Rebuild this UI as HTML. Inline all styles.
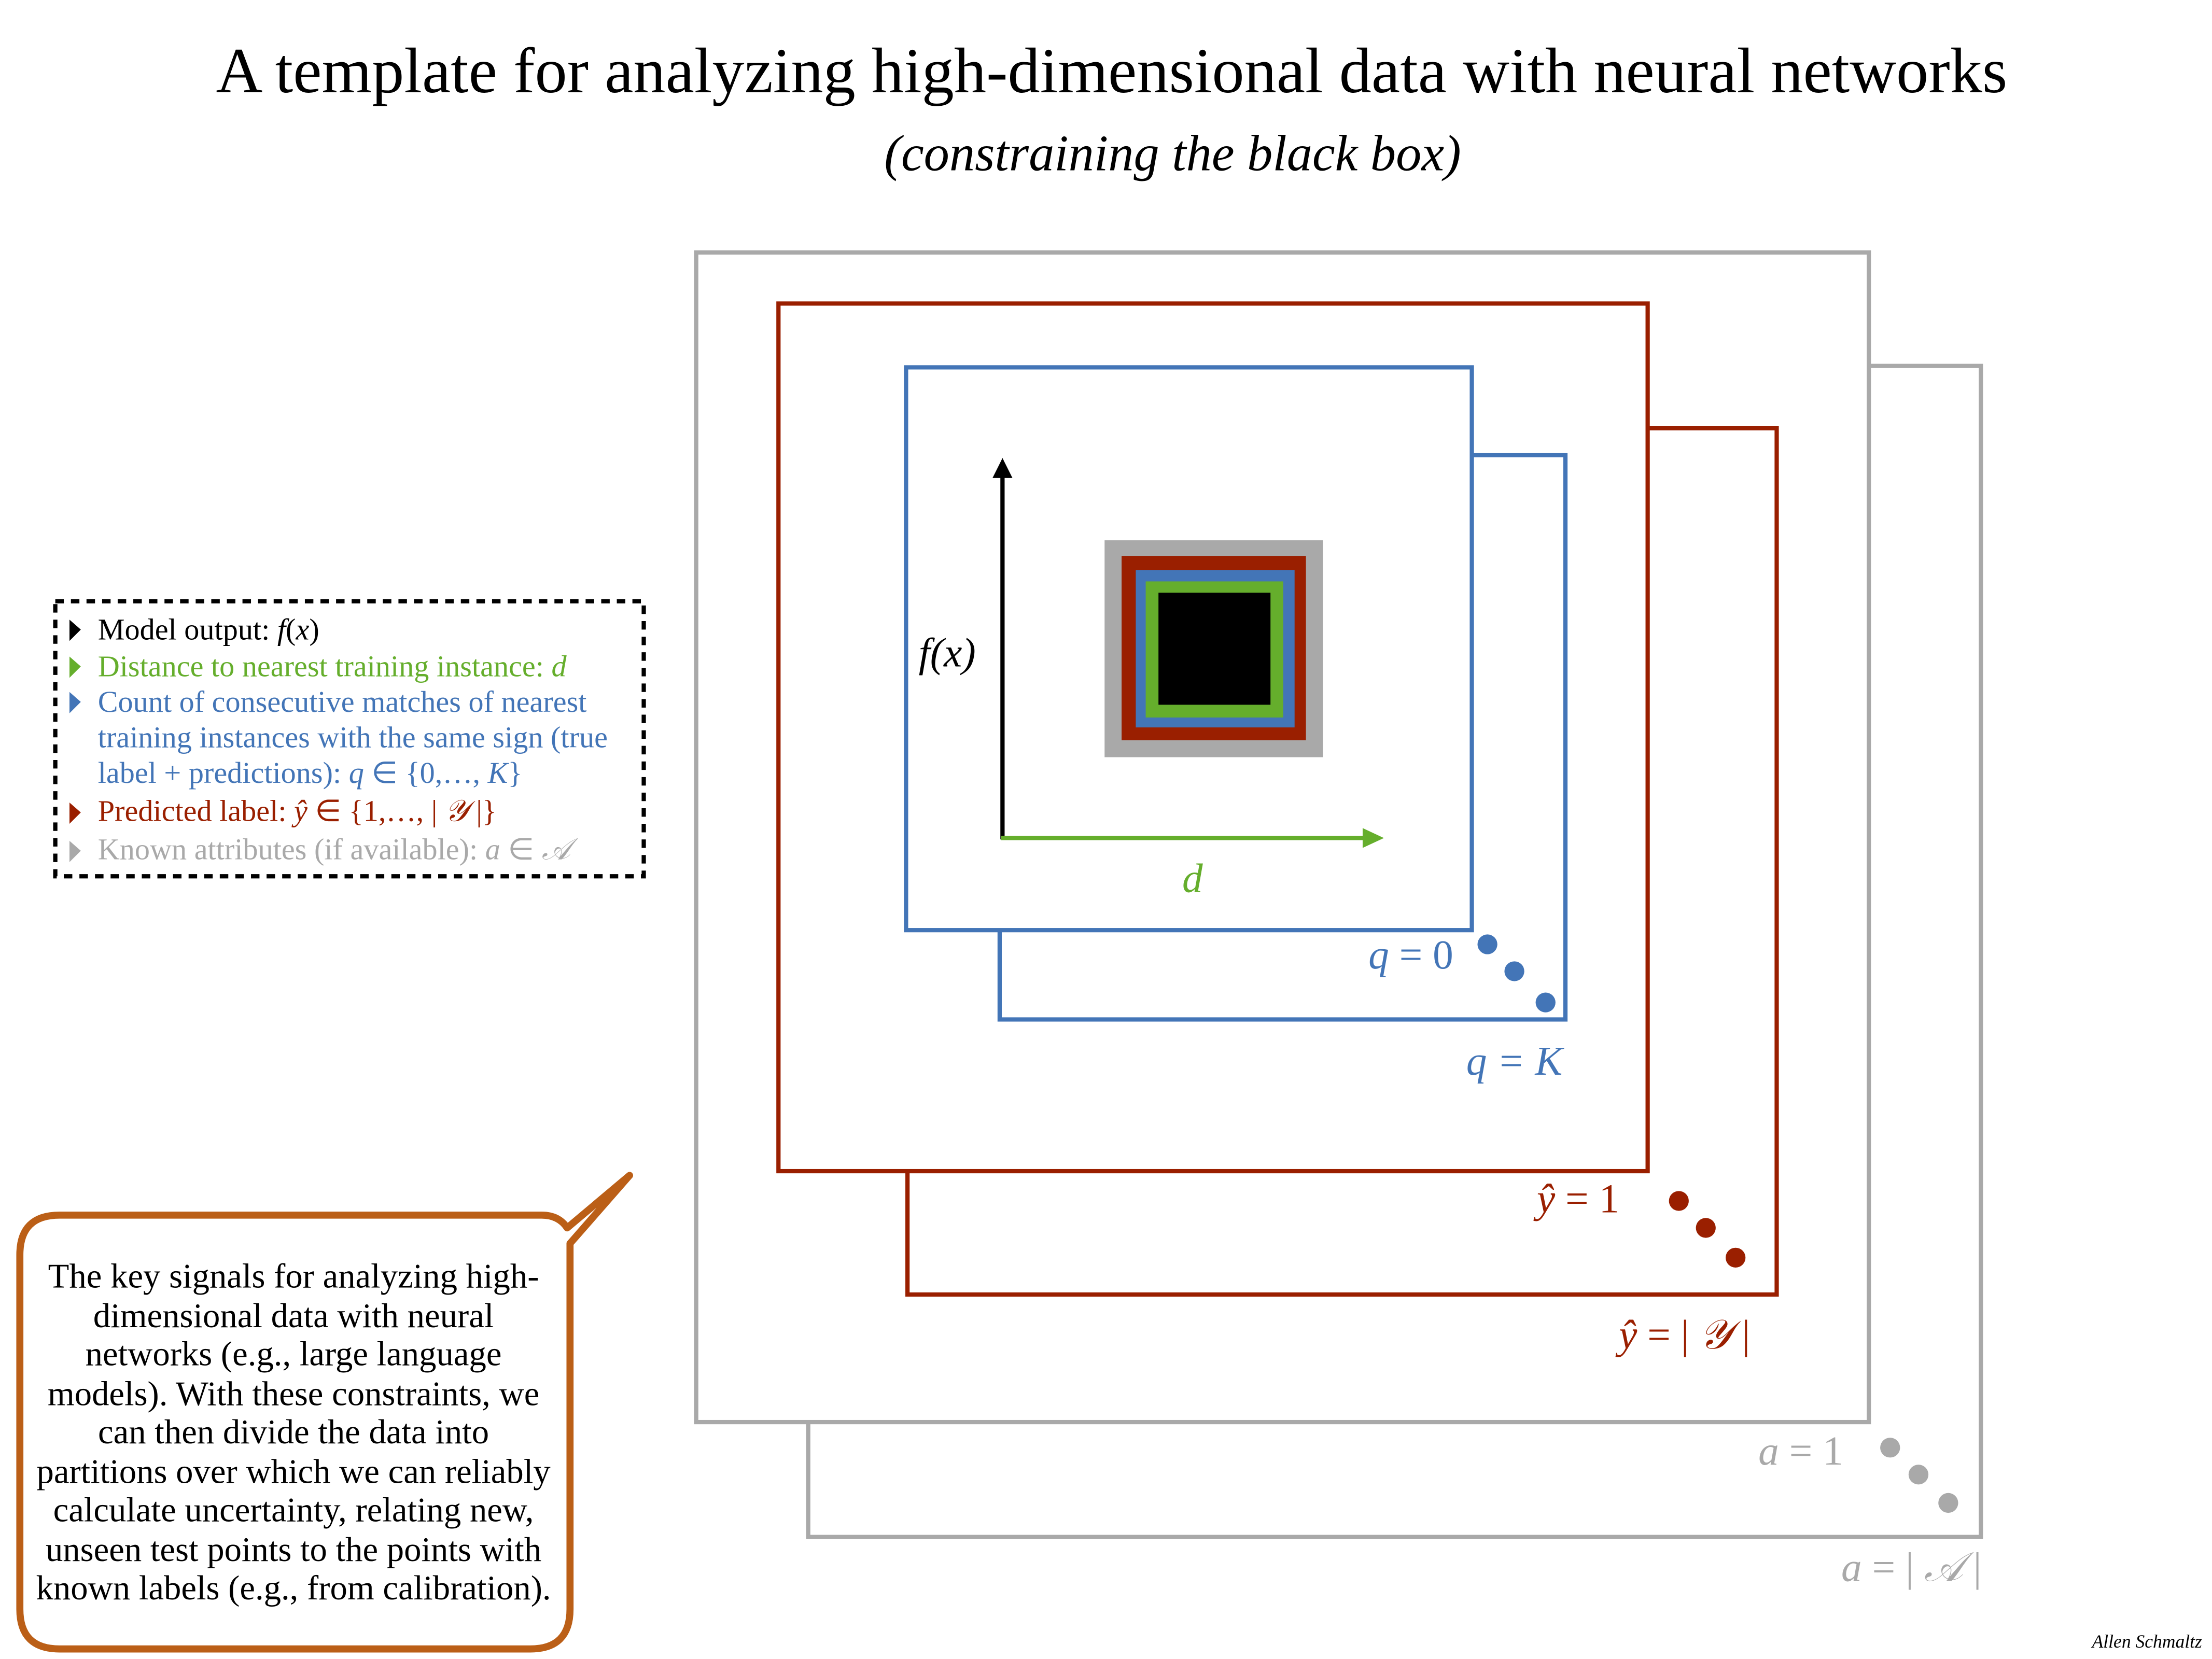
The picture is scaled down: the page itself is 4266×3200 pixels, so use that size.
<!DOCTYPE html>
<html><head><meta charset="utf-8"><style>
html,body{margin:0;padding:0;background:#fff;}
svg{display:block;}
text{font-family:"Liberation Serif",serif;}
.i{font-style:italic;}
</style></head><body>
<svg width="4266" height="3200" viewBox="0 0 1560 1170" xmlns="http://www.w3.org/2000/svg">
<rect width="1560" height="1170" fill="#fff"/>
<text x="784" y="65" font-size="45.5" text-anchor="middle">A template for analyzing high-dimensional data with neural networks</text>
<text x="827" y="120" font-size="36" text-anchor="middle" class="i">(constraining the black box)</text>

<rect x="570" y="258" width="827" height="826" fill="#fff" stroke="#a9a9a9" stroke-width="3"/>
<rect x="491" y="178" width="827" height="825" fill="#fff" stroke="#a9a9a9" stroke-width="3"/>
<rect x="640" y="302" width="613" height="611" fill="#fff" stroke="#9a1f00" stroke-width="3"/>
<rect x="549" y="214" width="613" height="612" fill="#fff" stroke="#9a1f00" stroke-width="3"/>
<rect x="705" y="321" width="399" height="398" fill="#fff" stroke="#4375b7" stroke-width="3"/>
<rect x="639" y="259" width="399" height="397" fill="#fff" stroke="#4375b7" stroke-width="3"/>

<line x1="707" y1="592" x2="707" y2="336" stroke="#000" stroke-width="3"/>
<polygon points="707,323 700,337 714,337" fill="#000"/>
<line x1="706" y1="591" x2="962" y2="591" stroke="#65ae2c" stroke-width="3"/>
<polygon points="976,591 961,584 961,598" fill="#65ae2c"/>
<text x="668" y="470" font-size="29" text-anchor="middle" class="i">f(x)</text>
<text x="841" y="629" font-size="29" text-anchor="middle" fill="#65ae2c" class="i">d</text>

<rect x="779" y="381" width="154" height="153" fill="#a9a9a9"/>
<rect x="791" y="392" width="130" height="130" fill="#9a1f00"/>
<rect x="801" y="402" width="112" height="111" fill="#4375b7"/>
<rect x="808" y="410" width="97" height="96" fill="#65ae2c"/>
<rect x="817" y="418" width="79" height="79" fill="#000"/>

<text x="995" y="683" font-size="29" text-anchor="middle" fill="#4375b7"><tspan class="i">q</tspan> = 0</text>
<circle cx="1049" cy="666" r="7" fill="#4375b7"/><circle cx="1068" cy="685" r="7" fill="#4375b7"/><circle cx="1090" cy="707" r="7" fill="#4375b7"/>
<text x="1068" y="758" font-size="29" text-anchor="middle" fill="#4375b7" class="i">q = K</text>

<text x="1113" y="855" font-size="29" text-anchor="middle" fill="#9a1f00"><tspan class="i">ŷ</tspan> = 1</text>
<circle cx="1184" cy="847" r="7" fill="#9a1f00"/><circle cx="1203" cy="866" r="7" fill="#9a1f00"/><circle cx="1224" cy="887" r="7" fill="#9a1f00"/>
<text x="1188" y="951" font-size="29" text-anchor="middle" fill="#9a1f00"><tspan class="i">ŷ</tspan> = | <tspan class="i">𝒴</tspan> |</text>

<text x="1270" y="1033" font-size="29" text-anchor="middle" fill="#a9a9a9"><tspan class="i">a</tspan> = 1</text>
<circle cx="1333" cy="1021" r="7" fill="#a9a9a9"/><circle cx="1353" cy="1040" r="7" fill="#a9a9a9"/><circle cx="1374" cy="1060" r="7" fill="#a9a9a9"/>
<text x="1348" y="1115" font-size="29" text-anchor="middle" fill="#a9a9a9"><tspan class="i">a</tspan> = | <tspan class="i">𝒜</tspan> |</text>

<rect x="39" y="424" width="415" height="194" fill="#fff" stroke="#000" stroke-width="3" stroke-dasharray="6,5"/>
<g font-size="21.3">
<polygon points="49,437 57,444 49,452" fill="#000"/>
<text x="69" y="451">Model output: <tspan class="i">f</tspan>(<tspan class="i">x</tspan>)</text>
<polygon points="49,463 57,470 49,478" fill="#65ae2c"/>
<text x="69" y="477" fill="#65ae2c">Distance to nearest training instance: <tspan class="i">d</tspan></text>
<polygon points="49,488 57,495 49,503" fill="#4375b7"/>
<text x="69" y="502" fill="#4375b7">Count of consecutive matches of nearest</text>
<text x="69" y="527" fill="#4375b7">training instances with the same sign (true</text>
<text x="69" y="552" fill="#4375b7">label + predictions): <tspan class="i">q</tspan> ∈ {0,…, <tspan class="i">K</tspan>}</text>
<polygon points="49,566 57,573 49,581" fill="#9a1f00"/>
<text x="69" y="579" fill="#9a1f00">Predicted label: <tspan class="i">ŷ</tspan> ∈ {1,…, | <tspan class="i">𝒴</tspan> |}</text>
<polygon points="49,593 57,600 49,608" fill="#a9a9a9"/>
<text x="69" y="606" fill="#a9a9a9">Known attributes (if available): <tspan class="i">a</tspan> ∈ <tspan class="i">𝒜</tspan></text>
</g>

<path d="M42,857 L382,857 Q394,857 400,866 L444,829 L402,877 L402,1135 Q402,1163 374,1163 L42,1163 Q14,1163 14,1135 L14,885 Q14,857 42,857 Z" fill="#fff" stroke="#bb5f17" stroke-width="5" stroke-linejoin="round"/>
<g font-size="24.4" text-anchor="middle">
<text x="207" y="908">The key signals for analyzing high-</text>
<text x="207" y="936">dimensional data with neural</text>
<text x="207" y="963">networks (e.g., large language</text>
<text x="207" y="991">models). With these constraints, we</text>
<text x="207" y="1018">can then divide the data into</text>
<text x="207" y="1046">partitions over which we can reliably</text>
<text x="207" y="1073">calculate uncertainty, relating new,</text>
<text x="207" y="1101">unseen test points to the points with</text>
<text x="207" y="1128">known labels (e.g., from calibration).</text>
</g>

<text x="1553" y="1162" font-size="13" text-anchor="end" class="i">Allen Schmaltz</text>
</svg>
</body></html>
